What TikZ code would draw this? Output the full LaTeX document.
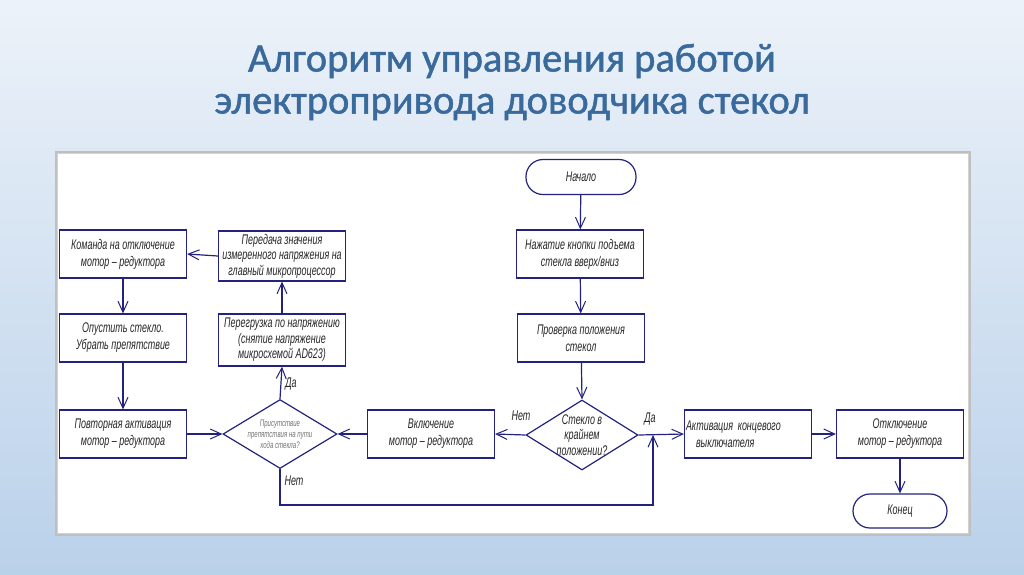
\documentclass[tikz,border=0pt]{standalone}
\usepackage{fontspec}
\setmainfont{Carlito}
\newfontfamily\ttlfont[FakeBold=1.2]{Carlito}
\newfontfamily\gost[FakeStretch=0.64]{Liberation Sans}
\usetikzlibrary{arrows.meta,shapes.geometric}
\definecolor{navy}{RGB}{35,35,125}
\definecolor{titleblue}{RGB}{58,105,155}
\definecolor{bgtop}{RGB}{236,242,249}
\definecolor{bgbot}{RGB}{186,209,234}
\begin{document}
\begin{tikzpicture}[x=1pt,y=-1pt,
  conn/.style={draw=navy, line width=1.2pt},
  arr/.style={conn, -{Straight Barb[length=11pt,width=10pt,line width=1pt]}},
  box/.style={draw=navy, line width=1.2pt, fill=white, minimum width=127pt, minimum height=48pt,
    inner sep=1pt, align=center, text=black!85, font=\gost\itshape\fontsize{14}{17}\selectfont},
  box3/.style={box, font=\gost\itshape\fontsize{14}{15.5}\selectfont},
  term/.style={box, rounded corners=17pt, minimum width=110pt, minimum height=35pt},
  dec/.style={draw=navy, line width=1.2pt, fill=white, diamond, minimum width=112pt, minimum height=70pt, inner sep=0pt},
  dtext/.style={align=center, text=black!85, font=\gost\itshape\fontsize{14}{15.5}\selectfont},
  lbl/.style={text=black!85, font=\gost\itshape\fontsize{14}{17}\selectfont},
  ttl/.style={text=titleblue, font=\ttlfont\fontsize{40.5}{46}\selectfont}
]
\useasboundingbox (0,0) rectangle (1024,574);
\shade[top color=bgtop, bottom color=bgbot] (0,0) rectangle (1024,574);
\fill[gray!50] (55,151) rectangle (971,536);
\fill[white, draw=gray!35, line width=0.8pt] (57,153) rectangle (968,533);

\node[ttl] (t1) at (512,61) {Алгоритм управления работой};
\node[ttl] (t2) at (512,107) {электропривода доводчика стекол};

\node[term] (start) at (581,177) {Начало};
\node[box] (press) at (580,254) {Нажатие кнопки подъема\\стекла вверх/вниз};
\node[box] (check) at (581,338) {Проверка положения\\стекол};
\node[dec] (d1) at (582,435) {};
\node[dtext] (d1t) at (d1) {Стекло в\\крайнем\\положении?};
\node[box] (on) at (431,434) {Включение\\мотор – редуктора};
\node[dec, minimum width=114pt, minimum height=69pt] (d2) at (280,434) {};
\node[dtext, text=black!55, font=\gost\itshape\fontsize{9.5}{11}\selectfont] (d2t) at (d2) {Присутствие\\препятствия на пути\\хода стекла?};
\node[box3, minimum height=52pt] (over) at (282,340) {Перегрузка по напряжению\\(снятие напряжение\\микросхемой AD623)};
\node[box3, minimum height=50pt] (send) at (282,256) {Передача значения\\измеренного напряжения на\\главный микропроцессор};
\node[box] (cmd) at (123,254) {Команда на отключение\\мотор – редуктора};
\node[box] (down) at (123,338) {Опустить стекло.\\Убрать препятствие};
\node[box] (again) at (123,434) {Повторная активация\\мотор – редуктора};
\node[box, text width=124pt, align=left] (act) at (748,434) {Активация концевого\\\hspace*{10pt}выключателя};
\node[box] (off) at (900,434) {Отключение\\мотор – редуктора};
\node[term, minimum width=94pt, minimum height=34pt] (end) at (900,511) {Конец};

\coordinate (j) at (653,435);
\coordinate (lb) at (280,505);

\draw[arr] (start) -- (press);
\draw[arr] (press) -- (check);
\draw[arr] (check) -- (d1.north);
\draw[arr] (d1.west) -- (on.east);
\draw[arr] (d1.east) -- (act.west);
\draw[arr] (d2.south) -- (lb) -| (j);
\draw[arr] (on.west) -- (d2.east);
\draw[arr] (d2.north) -- (over.south);
\draw[arr] (over.north) -- (send.south);
\draw[arr] (send.west) -- (cmd.east);
\draw[arr] (cmd) -- (down);
\draw[arr] (down) -- (again);
\draw[arr] (again.east) -- (d2.west);
\draw[arr] (act.east) -- (off.west);
\draw[arr] (off) -- (end);

\node[lbl] (l1) at (521,416) {Нет};
\node[lbl] (l2) at (650,419) {Да};
\node[lbl] (l3) at (291,384) {Да};
\node[lbl] (l4) at (294,481) {Нет};
\end{tikzpicture}
\end{document}
